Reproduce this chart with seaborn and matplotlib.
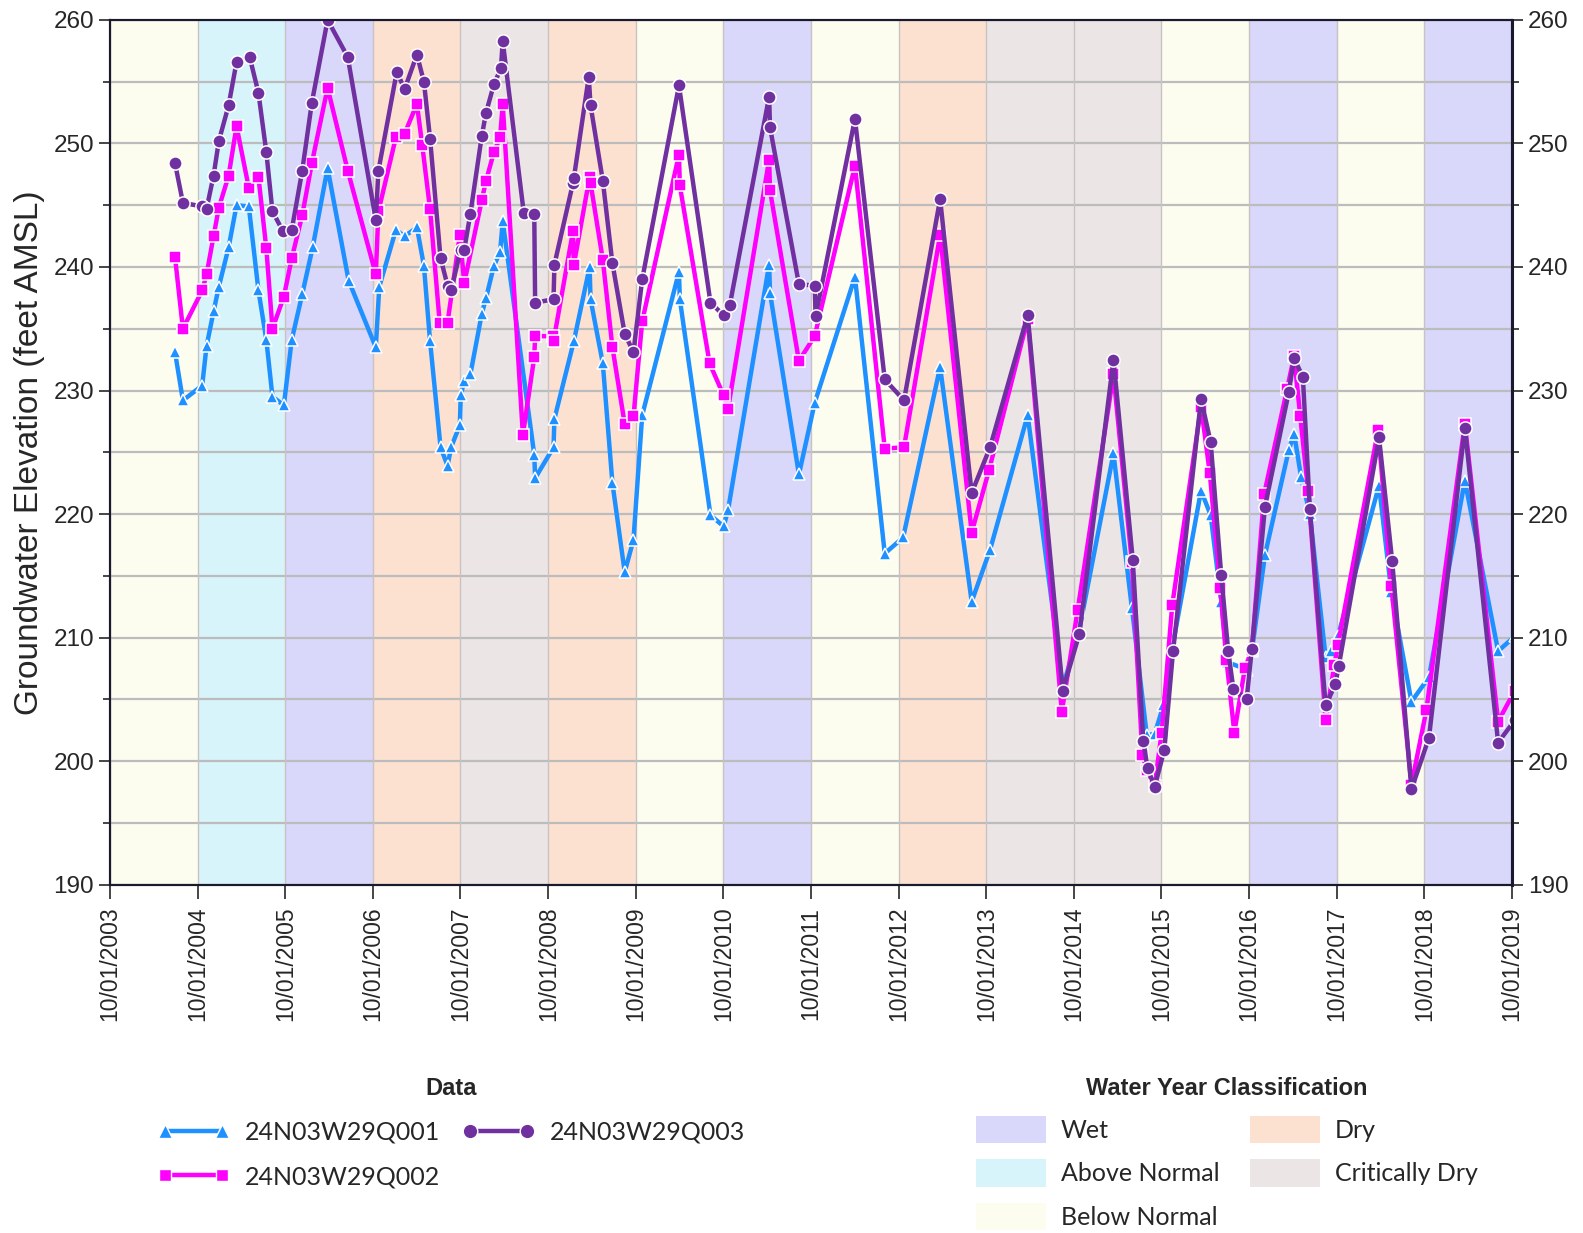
import pandas as pd
import matplotlib
matplotlib.use("Agg")
import matplotlib.pyplot as plt
import matplotlib.dates as mdates
from matplotlib.ticker import MultipleLocator
from matplotlib.lines import Line2D
from matplotlib.patches import Patch
import seaborn as sns

# sample times (decimal years) and elevations (feet AMSL)
q001_t = [2004.49, 2004.58, 2004.80, 2004.85, 2004.93, 2004.99, 2005.10, 2005.19, 2005.33, 2005.44,
          2005.53, 2005.60, 2005.73, 2005.82, 2005.94, 2006.06, 2006.23, 2006.47, 2006.78, 2006.82,
          2007.01, 2007.11, 2007.25, 2007.33, 2007.40, 2007.52, 2007.60, 2007.64, 2007.74, 2007.75,
          2007.79, 2007.86, 2007.99, 2008.04, 2008.13, 2008.20, 2008.23, 2008.59, 2008.60, 2008.81,
          2008.82, 2009.04, 2009.22, 2009.23, 2009.37, 2009.48, 2009.62, 2009.72, 2009.82, 2010.24,
          2010.25, 2010.60, 2010.75, 2010.80, 2011.27, 2011.28, 2011.61, 2011.79, 2012.25, 2012.59,
          2012.80, 2013.22, 2013.58, 2013.79, 2014.22, 2014.62, 2014.80, 2015.20, 2015.41, 2015.58,
          2015.67, 2015.77, 2015.88, 2016.20, 2016.31, 2016.43, 2016.50, 2016.73, 2016.78, 2016.93,
          2017.20, 2017.26, 2017.34, 2017.44, 2017.62, 2017.68, 2017.76, 2018.23, 2018.37, 2018.60,
          2018.80, 2019.21, 2019.59, 2019.78]
q001_v = [233.1, 229.2, 230.4, 233.6, 236.4, 238.4, 241.6, 245.0, 244.9, 238.1,
          234.1, 229.5, 228.8, 234.1, 237.8, 241.6, 248.0, 238.9, 233.5, 238.4,
          243.0, 242.5, 243.2, 240.1, 234.0, 225.4, 223.9, 225.4, 227.2, 229.6,
          230.8, 231.3, 236.2, 237.5, 240.1, 241.2, 243.7, 224.8, 222.9, 225.4,
          227.7, 234.0, 240.0, 237.4, 232.2, 222.5, 215.3, 217.9, 228.0, 239.6,
          237.4, 219.9, 219.0, 220.3, 240.2, 237.9, 223.2, 229.0, 239.2, 216.8,
          218.1, 231.9, 212.9, 217.1, 228.0, 206.0, 210.3, 224.9, 212.4, 202.1,
          202.2, 204.5, 209.5, 221.9, 219.9, 212.9, 208.0, 207.4, 208.9, 216.7,
          225.2, 226.5, 223.0, 220.0, 208.4, 208.9, 210.1, 222.3, 213.7, 204.8,
          206.8, 222.7, 208.9, 210.1]

q002_t = [2004.49, 2004.58, 2004.80, 2004.85, 2004.93, 2004.99, 2005.10, 2005.19, 2005.33, 2005.44,
          2005.53, 2005.60, 2005.73, 2005.82, 2005.94, 2006.05, 2006.23, 2006.46, 2006.78, 2006.81,
          2007.01, 2007.11, 2007.25, 2007.31, 2007.40, 2007.51, 2007.60, 2007.74, 2007.79, 2007.99,
          2008.04, 2008.13, 2008.20, 2008.23, 2008.46, 2008.59, 2008.60, 2008.80, 2008.81, 2009.03,
          2009.04, 2009.22, 2009.23, 2009.37, 2009.48, 2009.62, 2009.72, 2009.82, 2010.24, 2010.25,
          2010.59, 2010.75, 2010.80, 2011.27, 2011.28, 2011.61, 2011.79, 2012.25, 2012.59, 2012.81,
          2013.22, 2013.58, 2013.78, 2014.22, 2014.61, 2014.79, 2015.20, 2015.41, 2015.53, 2015.58,
          2015.67, 2015.75, 2015.87, 2016.20, 2016.30, 2016.42, 2016.49, 2016.58, 2016.70, 2016.78,
          2016.92, 2017.18, 2017.26, 2017.33, 2017.42, 2017.62, 2017.72, 2017.76, 2018.22, 2018.37,
          2018.60, 2018.77, 2019.21, 2019.59, 2019.78]
q002_v = [240.8, 235.0, 238.1, 239.4, 242.5, 244.8, 247.4, 251.4, 246.4, 247.3,
          241.5, 235.0, 237.6, 240.7, 244.2, 248.4, 254.5, 247.8, 239.4, 244.5,
          250.5, 250.8, 253.2, 249.9, 244.7, 235.5, 235.5, 242.6, 238.7, 245.4,
          247.0, 249.3, 250.5, 253.2, 226.4, 232.7, 234.4, 234.4, 234.0, 242.9,
          240.2, 247.3, 246.8, 240.6, 233.5, 227.3, 227.9, 235.6, 249.1, 246.6,
          232.2, 229.6, 228.5, 248.7, 246.2, 232.4, 234.4, 248.2, 225.3, 225.4,
          242.6, 218.5, 223.6, 235.8, 204.0, 212.2, 231.3, 216.1, 200.5, 199.3,
          198.0, 202.3, 212.6, 228.7, 223.3, 214.0, 208.2, 202.3, 207.5, 209.0,
          221.6, 230.1, 232.8, 227.9, 221.9, 203.3, 207.8, 209.4, 226.8, 214.2,
          198.1, 204.1, 227.3, 203.2, 205.7]

q003_t = [2004.49, 2004.58, 2004.80, 2004.85, 2004.93, 2004.99, 2005.10, 2005.19, 2005.34, 2005.44,
          2005.53, 2005.60, 2005.72, 2005.82, 2005.94, 2006.05, 2006.23, 2006.46, 2006.78, 2006.81,
          2007.02, 2007.11, 2007.25, 2007.33, 2007.40, 2007.52, 2007.60, 2007.64, 2007.75, 2007.79,
          2007.86, 2007.99, 2008.04, 2008.13, 2008.21, 2008.23, 2008.47, 2008.59, 2008.60, 2008.81,
          2008.82, 2009.03, 2009.04, 2009.21, 2009.23, 2009.37, 2009.48, 2009.62, 2009.72, 2009.82,
          2010.24, 2010.60, 2010.75, 2010.82, 2011.27, 2011.28, 2011.61, 2011.79, 2011.80, 2012.25,
          2012.59, 2012.81, 2013.22, 2013.58, 2013.79, 2014.22, 2014.62, 2014.81, 2015.20, 2015.42,
          2015.54, 2015.59, 2015.67, 2015.78, 2015.88, 2016.20, 2016.31, 2016.43, 2016.51, 2016.57,
          2016.72, 2016.78, 2016.93, 2017.20, 2017.26, 2017.36, 2017.44, 2017.62, 2017.73, 2017.77,
          2018.23, 2018.38, 2018.60, 2018.80, 2019.21, 2019.59, 2019.78]
q003_v = [248.4, 245.2, 244.9, 244.7, 247.4, 250.2, 253.1, 256.6, 257.0, 254.1,
          249.3, 244.5, 242.9, 243.0, 247.8, 253.3, 260.0, 257.0, 243.8, 247.8,
          255.8, 254.4, 257.2, 255.0, 250.4, 240.7, 238.5, 238.1, 241.4, 241.4,
          244.3, 250.6, 252.5, 254.8, 256.1, 258.3, 244.4, 244.3, 237.1, 237.4,
          240.2, 246.8, 247.2, 255.4, 253.1, 247.0, 240.3, 234.6, 233.1, 239.0,
          254.7, 237.1, 236.1, 236.9, 253.8, 251.3, 238.6, 238.5, 236.0, 252.0,
          230.9, 229.2, 245.5, 221.7, 225.4, 236.1, 205.7, 210.3, 232.5, 216.3,
          201.6, 199.4, 197.9, 200.9, 208.9, 229.3, 225.8, 215.1, 208.9, 205.8,
          205.0, 209.1, 220.6, 229.9, 232.6, 231.1, 220.4, 204.5, 206.2, 207.7,
          226.2, 216.2, 197.7, 201.9, 227.0, 201.5, 203.3]

well_names = ["24N03W29Q001", "24N03W29Q002", "24N03W29Q003"]
well_colors = ["#1E90FF", "#FF00FF", "#7030A0"]
well_markers = ["^", "s", "o"]
well_msize = [8.5, 8, 9.5]

# water years (ending Sep 30 of the year) and their classification
water_years = list(range(2004, 2020))
wy_class = ["Below Normal", "Above Normal", "Wet", "Dry", "Critically Dry", "Dry", "Below Normal",
            "Wet", "Below Normal", "Dry", "Critically Dry", "Critically Dry", "Below Normal", "Wet",
            "Below Normal", "Wet"]
class_order = ["Wet", "Above Normal", "Below Normal", "Dry", "Critically Dry"]
class_colors = {"Wet": "#D9D7FA", "Above Normal": "#D7F4FB", "Below Normal": "#FDFDEF",
                "Dry": "#FCE1D1", "Critically Dry": "#EBE5E5"}


def dec_to_date(d):
    yr = int(d)
    return pd.Timestamp(yr, 1, 1) + pd.Timedelta(days=(d - yr) * 365.25)


frames = []
for name, t, v in zip(well_names, [q001_t, q002_t, q003_t], [q001_v, q002_v, q003_v]):
    frames.append(pd.DataFrame({"well": name, "date": [dec_to_date(x) for x in t], "elev": v}))
df = pd.concat(frames, ignore_index=True)

sns.set_style("ticks")
plt.rcParams["font.family"] = ["Liberation Sans", "DejaVu Sans"]

fig = plt.figure(figsize=(15.83, 12.33), dpi=100)
ax = fig.add_axes([0.0695, 0.2826, 0.8856, 0.7012])

# water year background bands
for wy, cls in zip(water_years, wy_class):
    ax.axvspan(pd.Timestamp(wy - 1, 10, 1), pd.Timestamp(wy, 10, 1),
               color=class_colors[cls], lw=0, zorder=0)
    ax.axvline(pd.Timestamp(wy - 1, 10, 1), color="#c9c2c2", lw=1, zorder=0.6)

ax.set_axisbelow(True)
ax.yaxis.grid(True, which="both", color="#bcbcbc", lw=1.6)

for name, col, mk, ms in zip(well_names, well_colors, well_markers, well_msize):
    sns.lineplot(data=df[df["well"] == name], x="date", y="elev", color=col,
                 marker=mk, markersize=ms, markeredgecolor="white", markeredgewidth=1.1,
                 linewidth=3.2, estimator=None, sort=False, legend=False, ax=ax, zorder=3)

ax.set_xlim(pd.Timestamp(2003, 10, 1), pd.Timestamp(2019, 10, 1))
ax.set_xticks([pd.Timestamp(y, 10, 1) for y in range(2003, 2020)])
ax.xaxis.set_major_formatter(mdates.DateFormatter("%m/%d/%Y"))
ax.tick_params(axis="x", labelrotation=90, labelsize=16.5, length=10, width=1.2, pad=6)
ax.set_xlabel("")

ax.set_ylim(190, 260)
ax.yaxis.set_major_locator(MultipleLocator(10))
ax.yaxis.set_minor_locator(MultipleLocator(5))
ax.tick_params(axis="y", which="major", labelsize=17.5, length=8, width=1.2)
ax.tick_params(axis="y", which="minor", length=5, width=1.2)
ax.set_ylabel("Groundwater Elevation (feet AMSL)", fontsize=24, labelpad=6)

ax2 = ax.twinx()
ax2.set_ylim(190, 260)
ax2.yaxis.set_major_locator(MultipleLocator(10))
ax2.yaxis.set_minor_locator(MultipleLocator(5))
ax2.tick_params(axis="y", which="major", labelsize=17.5, length=8, width=1.2)
ax2.tick_params(axis="y", which="minor", length=5, width=1.2)

for a in (ax, ax2):
    for s in a.spines.values():
        s.set_color("#1a1a2e")
        s.set_linewidth(1.5)
ax2.spines["right"].set_linewidth(2.2)

legend_font = {"family": ["Lato", "DejaVu Sans"], "size": 18}
title_font = {"family": ["Liberation Sans Narrow", "Liberation Sans"], "weight": "bold", "size": 17}

data_handles = [Line2D([], [], color=c, marker=m, markersize=s + 1, markeredgecolor="white", lw=3.2, label=n)
                for n, c, m, s in zip(well_names, well_colors, well_markers, well_msize)]
fig.legend(handles=data_handles, loc="upper center", bbox_to_anchor=(0.285, 0.145), ncol=2,
           title="Data", frameon=False, prop=legend_font, title_fontproperties=title_font,
           numpoints=2, handlelength=2.9, columnspacing=0.9, labelspacing=0.85, handletextpad=0.6)

wy_handles = [Patch(facecolor=class_colors[c], edgecolor="none", label=c) for c in class_order]
fig.legend(handles=wy_handles, loc="upper center", bbox_to_anchor=(0.775, 0.145), ncol=2,
           title="Water Year Classification", frameon=False, prop=legend_font,
           title_fontproperties=title_font, handlelength=2.8, handleheight=1.3,
           columnspacing=1.2, labelspacing=0.65, handletextpad=0.6)

fig.savefig("out.png", dpi=100)
